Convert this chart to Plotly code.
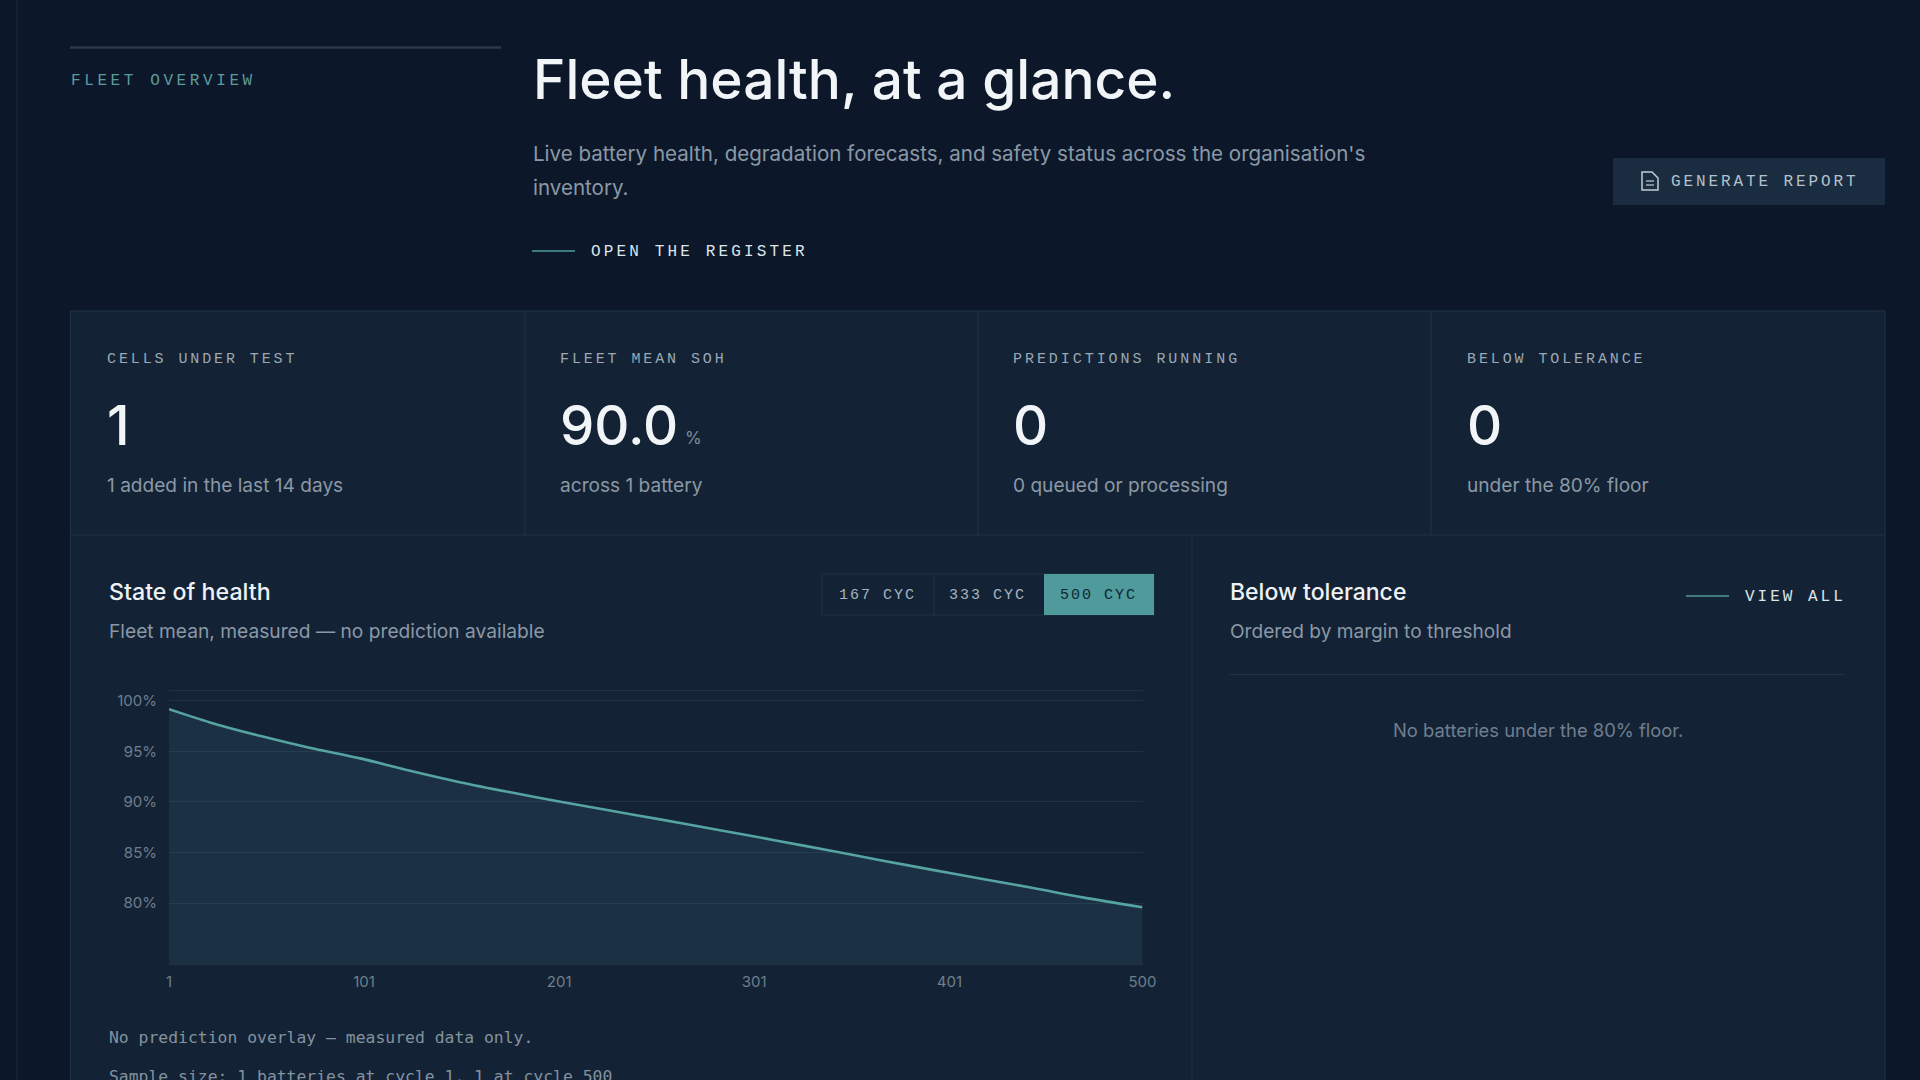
import json
import plotly.graph_objects as go

W, H = 1920, 1080

# Series
cycles = [1, 22, 48, 73, 99, 124, 150, 176, 201, 227, 252, 282, 312, 341, 367, 393, 418, 444, 470, 500]
soh = [99.15, 97.85, 96.5, 95.35, 94.3, 93.1, 91.95, 90.95, 90.05, 89.15, 88.3, 87.25, 86.2, 85.15, 84.2, 83.27, 82.4, 81.5, 80.55, 79.6]
x_ticks = [1, 101, 201, 301, 401, 500]
y_ticks = [80, 85, 90, 95, 100]

# Colours
BG = "#0c182a"
PANEL = "#132335"
EDGE = "#213345"
GRID = "#1f3143"
TEAL = "#4f9a9a"
WHITE = "#f2f5f7"
MUTED = "#8b98a6"
LABEL = "#9aa8b4"

SANS = "Inter"
MONO = "Liberation Mono"

# Letter spacing of the mono labels, px
spacing = {
    "FLEET OVERVIEW": 3.6,
    "OPEN THE REGISTER": 3.15,
    "GENERATE REPORT": 2.9,
    "CELLS UNDER TEST": 2.9,
    "FLEET MEAN SOH": 2.9,
    "PREDICTIONS RUNNING": 2.95,
    "BELOW TOLERANCE": 2.9,
    "167 CYC": 2.0,
    "333 CYC": 2.0,
    "500 CYC": 2.0,
    "VIEW ALL": 3.0,
}


def fx(px):
    return px / W


def fy(py):
    return 1 - py / H


fig = go.Figure()

fig.add_trace(go.Scatter(
    x=cycles,
    y=soh,
    mode="lines",
    line=dict(color="#55a3a3", width=2.6, shape="spline", smoothing=0.8),
    fill="tozeroy",
    fillcolor="rgba(100,170,190,0.10)",
    hoverinfo="skip",
    showlegend=False,
))

shapes = []
annotations = []


def rect(x0, y0, x1, y1, fill, line=None):
    shapes.append(dict(
        type="rect", xref="paper", yref="paper", layer="below",
        x0=fx(x0), x1=fx(x1), y0=fy(y0), y1=fy(y1),
        fillcolor=fill,
        line=dict(color=line, width=1) if line else dict(width=0),
    ))


def rule(x0, y0, x1, y1, color=EDGE, width=1):
    shapes.append(dict(
        type="line", xref="paper", yref="paper", layer="below",
        x0=fx(x0), x1=fx(x1), y0=fy(y0), y1=fy(y1),
        line=dict(color=color, width=width),
    ))


def label(x, y, text, size, color, family=SANS, weight=400, anchor="left"):
    annotations.append(dict(
        xref="paper", yref="paper", x=fx(x), y=fy(y),
        text=text, showarrow=False,
        xanchor=anchor, yanchor="middle", align=anchor,
        borderpad=0,
        font=dict(family=family, size=size, color=color, weight=weight),
    ))


# Page chrome
rule(17, 0, 17, H, "#182a3d", 1)
rule(70, 47.5, 501, 47.5, "#2a3a4b", 2.5)
label(70, 81, "FLEET OVERVIEW", 16, "#5c9a9b", MONO)
label(532, 79, "Fleet health, at a glance.", 55, WHITE, SANS, 500)
label(532, 153.5, "Live battery health, degradation forecasts, and safety status across the organisation's", 20.55, MUTED)
label(532, 187.5, "inventory.", 20.55, MUTED)
rule(532, 251, 575, 251, TEAL, 1.5)
label(590, 252, "OPEN THE REGISTER", 16, "#dde4e9", MONO, 400)

# Report button
rect(1613, 158, 1885, 205, "#1a2d40")
shapes.append(dict(
    type="path", xref="paper", yref="paper",
    path=f"M {fx(1642)} {fy(172)} L {fx(1652)} {fy(172)} L {fx(1658)} {fy(178)} L {fx(1658)} {fy(190)} "
         f"L {fx(1642)} {fy(190)} Z",
    line=dict(color="#c2ccd4", width=1.5),
))
rule(1646, 181, 1654, 181, "#c2ccd4", 1.2)
rule(1646, 185, 1654, 185, "#c2ccd4", 1.2)
label(1670, 182, "GENERATE REPORT", 16, "#b4c0cb", MONO)

# Panels
rect(70.5, 311, 1885, H + 5, PANEL, EDGE)
rule(70.5, 535, 1885, 535)
for px in (525, 978, 1431):
    rule(px, 311, px, 535)
rule(1192, 535, 1192, H)

# KPI cells
kpi_x = [106, 559, 1012, 1466]
kpi_labels = ["CELLS UNDER TEST", "FLEET MEAN SOH", "PREDICTIONS RUNNING", "BELOW TOLERANCE"]
kpi_values = ["1", "90.0", "0", "0"]
kpi_notes = ["1 added in the last 14 days", "across 1 battery", "0 queued or processing", "under the 80% floor"]
for px, lab, val, note in zip(kpi_x, kpi_labels, kpi_values, kpi_notes):
    label(px, 360, lab, 15, LABEL, MONO)
    label(px, 425, val, 54.5, WHITE, SANS, 500)
    label(px, 485, note, 19.1, MUTED)
label(684, 438, "%", 17, "#7d8c9a")

# Chart card
label(108, 592, "State of health", 23.2, "#eef2f5", SANS, 500)
label(108, 631, "Fleet mean, measured — no prediction available", 19.2, MUTED)

rect(822, 574, 1154, 615, PANEL, EDGE)
rule(934, 574, 934, 615)
rect(1044, 574, 1154, 615, TEAL)
label(877, 595.5, "167 CYC", 15, "#a5b3bf", MONO, anchor="center")
label(988, 595.5, "333 CYC", 15, "#a5b3bf", MONO, anchor="center")
label(1098, 595.5, "500 CYC", 15, "#0f2536", MONO, anchor="center")

label(108, 1037, "No prediction overlay — measured data only.", 16.4, "#84929f", "DejaVu Sans Mono")
label(108, 1076, "Sample size: 1 batteries at cycle 1, 1 at cycle 500", 16.4, "#84929f", "DejaVu Sans Mono")

# Below tolerance card
label(1228.5, 592, "Below tolerance", 23, "#eef2f5", SANS, 500)
label(1228.5, 631, "Ordered by margin to threshold", 19.1, MUTED)
rule(1686, 596, 1729, 596, TEAL, 1.5)
label(1744, 597, "VIEW ALL", 16, "#dde4e9", MONO)
rule(1229.5, 674.5, 1845, 674.5)
label(1538, 730, "No batteries under the 80% floor.", 18.4, "#6f7e8d", anchor="center")

fig.update_layout(
    width=W,
    height=H,
    margin=dict(l=0, r=0, t=0, b=0, autoexpand=False),
    paper_bgcolor=BG,
    plot_bgcolor="rgba(0,0,0,0)",
    showlegend=False,
    shapes=shapes,
    annotations=annotations,
    xaxis=dict(
        domain=[fx(169), fx(1142.5)],
        range=[1, 500],
        tickmode="array",
        tickvals=x_ticks,
        ticktext=[str(v) for v in x_ticks],
        showgrid=False,
        zeroline=False,
        showline=True,
        mirror=True,
        linecolor=GRID,
        linewidth=1,
        ticklabelstandoff=4,
        tickfont=dict(family=SANS, size=15, color="#6e7e8c"),
    ),
    yaxis=dict(
        domain=[fy(964), fy(690.5)],
        range=[74, 101],
        tickmode="array",
        tickvals=y_ticks,
        ticktext=[f"{v}%" for v in y_ticks],
        showgrid=True,
        gridcolor=GRID,
        gridwidth=1,
        zeroline=False,
        ticklabelstandoff=11,
        tickfont=dict(family=SANS, size=15, color="#6e7e8c"),
    ),
)

# Plotly has no letter spacing option, so it goes on the SVG text after drawing
post_script = """
document.documentElement.style.background = '%s';
document.body.style.margin = '0';
document.body.style.overflow = 'hidden';
var spacing = %s;
document.querySelectorAll('.annotation-text').forEach(function (t) {
    var s = spacing[t.textContent];
    if (s) { t.style.letterSpacing = s + 'px'; }
});
""" % (BG, json.dumps(spacing))

fig.write_html("out.html", post_script=post_script, config={"displayModeBar": False})
